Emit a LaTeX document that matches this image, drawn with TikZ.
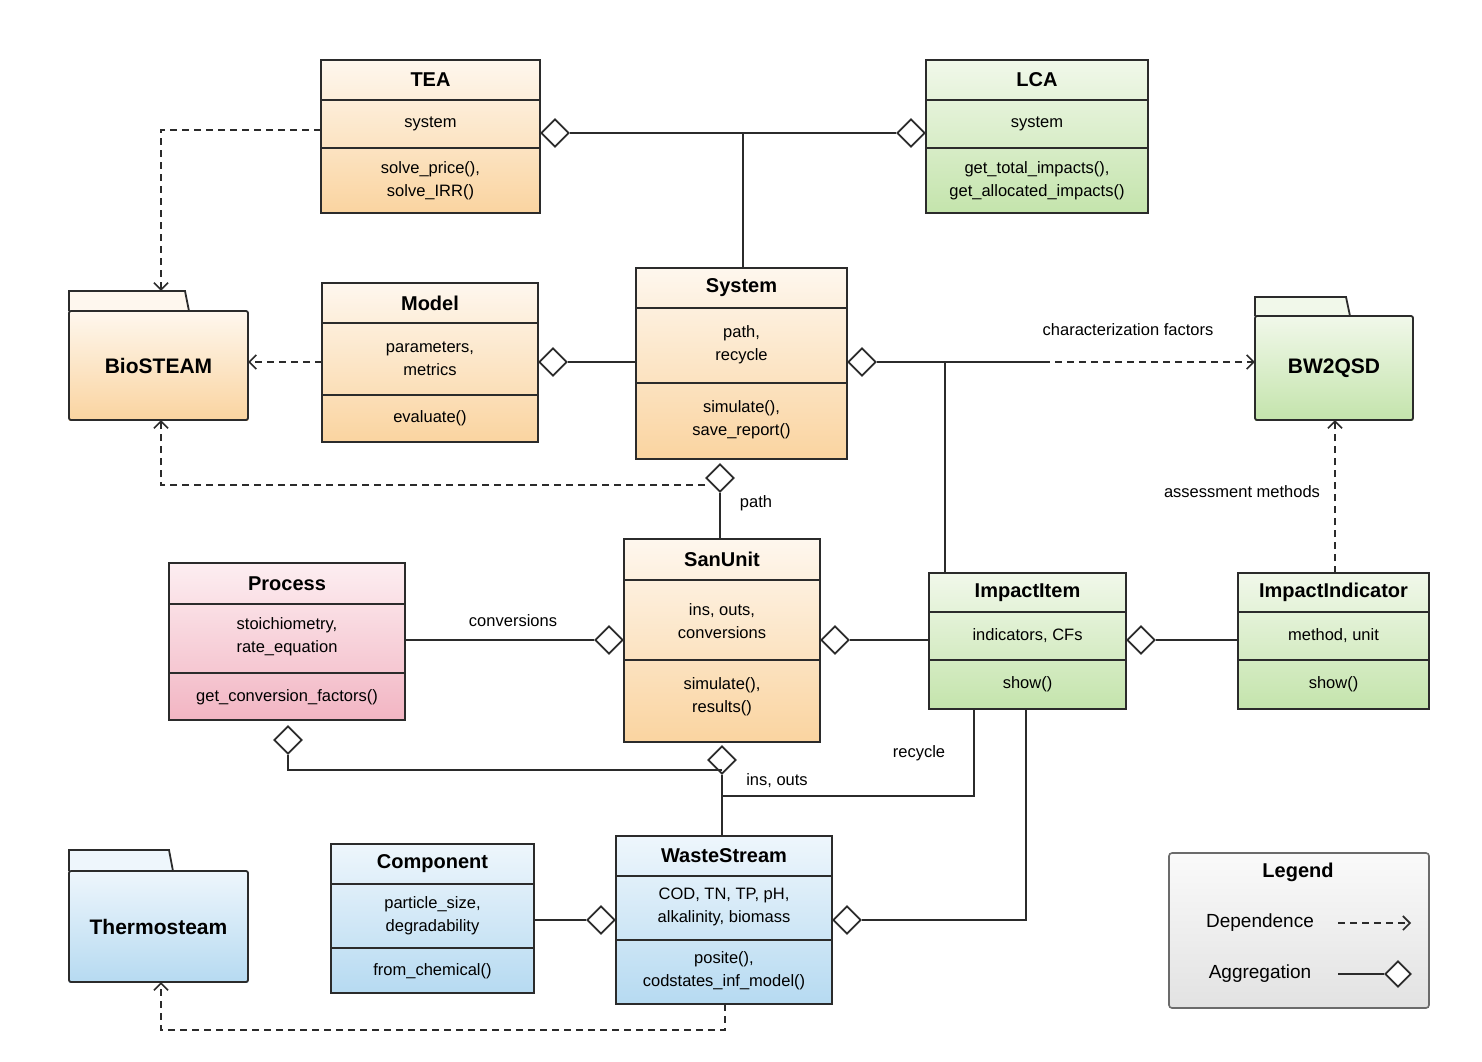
\documentclass[tikz,border=0pt]{standalone}
\usepackage{fontspec}
\setmainfont{Liberation Sans}
\usetikzlibrary{arrows.meta,shapes.geometric}
\definecolor{otop}{HTML}{FEF7EE}\definecolor{obot}{HTML}{FAD4A0}
\definecolor{gtop}{HTML}{F1F8EA}\definecolor{gbot}{HTML}{C4E4AC}
\definecolor{ptop}{HTML}{FDEEF1}\definecolor{pbot}{HTML}{F2B5C3}
\definecolor{btop}{HTML}{EEF6FC}\definecolor{bbot}{HTML}{B6DAF1}
\definecolor{ltop}{HTML}{FAFAFA}\definecolor{lbot}{HTML}{E2E2E2}
\definecolor{ln}{HTML}{2B2B2B}
\newcommand\umlcls[9]{%
 \shade[top color=#8top,bottom color=#8bot] (#2,#4) rectangle (#3,#7);
 \draw[ln,line width=1.8pt] (#2,#4) rectangle (#3,#7);
 \draw[ln,line width=1.4pt] (#2,#5) -- (#3,#5) (#2,#6) -- (#3,#6);
 \node[inner sep=0,minimum width={(#3-#2)*1pt},minimum height={(#7-#4)*1pt}] (#1) at ({(#2+#3)/2},{(#4+#7)/2}) {};
 \node[ttl] (#1t) at ({(#2+#3)/2},{(#4+#5)/2}) {#9};}
\newcommand\folder[8]{% name x1 tabx2 ytab ybody x2 y2 color
 \shade[top color=#8top,bottom color=#8bot] (#2,#5) rectangle (#6,#7);
 \draw[ln,line width=1.8pt,fill=#8top] (#2,#5) -- (#2,#4) -- ({#3-4},#4) -- (#3,#5);
 \draw[ln,line width=1.8pt,rounded corners=2pt] (#2,#5) rectangle (#6,#7);
 \node[inner sep=0,minimum width={(#6-#2)*1pt},minimum height={(#7-#4)*1pt}] (#1) at ({(#2+#6)/2},{(#4+#7)/2}) {};
 \node[font=\fontsize{21}{25}\selectfont\bfseries] (#1t) at ({(#2+#6)/2},{(#5+#7)/2}) {#1};}
\begin{document}
\begin{tikzpicture}[x=1pt,y=-1pt,
 ttl/.style={font=\fontsize{20}{24}\selectfont\bfseries},
 txt/.style={font=\fontsize{16.5}{23}\selectfont,align=center},
 lab/.style={font=\fontsize{16.5}{20}\selectfont},
 dia/.style={diamond,draw=ln,fill=white,line width=1.8pt,minimum width=28pt,minimum height=28pt,inner sep=0},
 con/.style={ln,line width=1.8pt},
 dep/.style={ln,line width=1.6pt,dash pattern=on 7pt off 5pt,-{Straight Barb[length=7pt,width=14pt,line width=1.6pt]}}]
\useasboundingbox[fill=white] (0,0) rectangle (1482,1061);
% classes
\umlcls{TEA}{321}{540}{60}{100}{148}{213}{o}{TEA}
\node[txt] at (430.5,124) {system};
\node[txt] at (430.5,181) {solve\_price(),\\solve\_IRR()};
\umlcls{LCA}{926}{1148}{60}{100}{148}{213}{g}{LCA}
\node[txt] at (1037,124) {system};
\node[txt] at (1037,181) {get\_total\_impacts(),\\get\_allocated\_impacts()};
\umlcls{Model}{322}{538}{283}{323}{395}{442}{o}{Model}
\node[txt] at (430,359) {parameters,\\metrics};
\node[txt] at (430,418) {evaluate()};
\umlcls{System}{636}{847}{268}{308}{383}{459}{o}{System}
\node[txt] at (741.5,345) {path,\\recycle};
\node[txt] at (741.5,420) {simulate(),\\save\_report()};
\umlcls{SanUnit}{624}{820}{539}{580}{660}{742}{o}{SanUnit}
\node[txt] at (722,621) {ins, outs,\\conversions};
\node[txt] at (722,697) {simulate(),\\results()};
\umlcls{Process}{169}{405}{563}{604}{673}{720}{p}{Process}
\node[txt] at (287,637) {stoichiometry,\\rate\_equation};
\node[txt] at (287,697) {get\_conversion\_factors()};
\umlcls{ImpactItem}{929}{1126}{573}{612}{660}{709}{g}{ImpactItem}
\node[txt] at (1027.5,636) {indicators, CFs};
\node[txt] at (1027.5,684) {show()};
\umlcls{ImpactIndicator}{1238}{1429}{573}{612}{660}{709}{g}{ImpactIndicator}
\node[txt] at (1333.5,636) {method, unit};
\node[txt] at (1333.5,684) {show()};
\umlcls{Component}{331}{534}{844}{884}{948}{993}{b}{Component}
\node[txt] at (432.5,916) {particle\_size,\\degradability};
\node[txt] at (432.5,971) {from\_chemical()};
\umlcls{WasteStream}{616}{832}{836}{876}{940}{1004}{b}{WasteStream}
\node[txt] at (724,907) {COD, TN, TP, pH,\\alkalinity, biomass};
\node[txt] at (724,971) {posite(),\\codstates\_inf\_model()};
% folders
\folder{BioSTEAM}{69}{189}{291}{311}{248}{420}{o}
\folder{BW2QSD}{1255}{1350}{297}{316}{1413}{420}{g}
\folder{Thermosteam}{69}{173}{850}{871}{248}{982}{b}
% legend
\shade[top color=ltop,bottom color=lbot,rounded corners=3pt] (1169,853) rectangle (1429,1008);
\draw[ln!70,line width=1.6pt,rounded corners=3pt] (1169,853) rectangle (1429,1008);
\node[ttl] (legt) at (1298,872) {Legend};
\node[font=\fontsize{19}{23}\selectfont] (ldep) at (1260,923) {Dependence};
\node[font=\fontsize{19}{23}\selectfont] (lagg) at (1260,974) {Aggregation};
\coordinate (ld1) at (1338,923); \coordinate (ld2) at (1411,923);
\draw[dep] (ld1) -- (ld2);
\coordinate (la1) at (1338,974);
\node[dia,minimum width=26pt,minimum height=26pt] (lad) at (1398,974) {};
\draw[con] (la1) -- (lad);
% connectors
\node[dia] (dTEA) at (555,133) {};
\node[dia] (dLCA) at (911,133) {};
\draw[con] (dTEA) -- (dLCA);
\coordinate (jTop) at (743,133);
\draw[con] (jTop) -- (jTop |- System.north);
\coordinate (tb) at (161,130);
\draw[dep] (TEA.west |- tb) -- (tb) -- (tb |- BioSTEAM.north);
\draw[dep] (Model.west |- 0,362) -- (BioSTEAM.east |- 0,362);
\node[dia] (dModel) at (553,362) {};
\draw[con] (dModel) -- (System.west |- dModel);
\node[dia] (dSys) at (862,362) {};
\coordinate (jCF) at (945,362);
\coordinate (cfs) at (1043,362);
\draw[con] (dSys) -- (cfs);
\draw[dep] (cfs) -- (BW2QSD.west |- cfs);
\node[lab] at (1128,330) {characterization factors};
\draw[con] (jCF) -- (jCF |- ImpactItem.north);
\node[dia] (dSysB) at (720,478) {};
\draw[con] (dSysB) -- (dSysB |- SanUnit.north);
\node[lab] at (756,503) {path};
\coordinate (bb) at (161,485);
\draw[dep] (dSysB.west |- bb) -- (bb) -- (bb |- BioSTEAM.south);
\node[dia] (dSanL) at (609,640) {};
\draw[con] (Process.east |- dSanL) -- (dSanL);
\node[lab] at (513,621) {conversions};
\node[dia] (dSanR) at (835,640) {};
\draw[con] (dSanR) -- (ImpactItem.west |- dSanR);
\node[dia] (dII) at (1141,640) {};
\draw[con] (dII) -- (ImpactIndicator.west |- dII);
\coordinate (ai) at (1335,573);
\draw[dep] (ai) -- (ai |- BW2QSD.south);
\node[lab] at (1242,492) {assessment methods};
\node[dia] (dProc) at (288,740) {};
\node[dia] (dSanB) at (722,760) {};
\coordinate (pc) at (288,770);
\draw[con] (dProc) -- (pc) -- (722,770);
\draw[con] (dSanB) -- (dSanB |- WasteStream.north);
\node[lab] at (777,781) {ins, outs};
\coordinate (rc) at (974,796);
\draw[con] (722,796) -- (rc) -- (rc |- ImpactItem.south);
\node[lab] at (919,753) {recycle};
\node[dia] (dWSR) at (847,920) {};
\coordinate (wr) at (1026,920);
\draw[con] (dWSR) -- (wr) -- (wr |- ImpactItem.south);
\node[dia] (dWSL) at (601,920) {};
\draw[con] (Component.east |- dWSL) -- (dWSL);
\coordinate (tw) at (725,1030); \coordinate (tt) at (161,1030);
\draw[dep] (tw |- WasteStream.south) -- (tw) -- (tt) -- (tt |- Thermosteam.south);
\end{tikzpicture}
\end{document}
